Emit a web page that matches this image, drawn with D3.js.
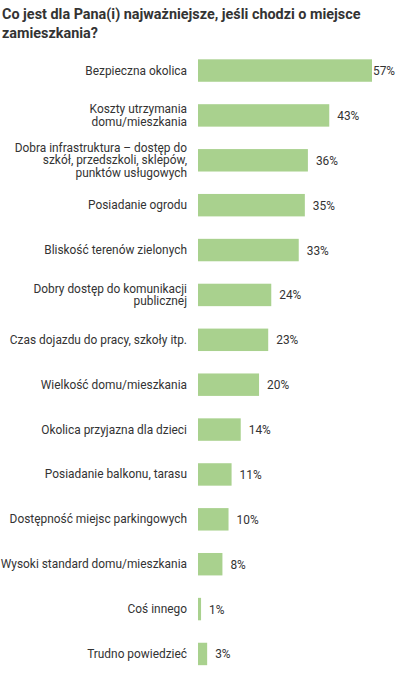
<!DOCTYPE html>
<html><head><meta charset="utf-8">
<script src="https://cdn.jsdelivr.net/npm/d3@7"></script>
<style>
html,body{margin:0;padding:0;background:#fff;}
svg{display:block;font-family:Roboto,"Noto Sans",sans-serif;}
</style></head>
<body><svg id="c" width="397" height="673"></svg>
<script>
const title = ["Co jest dla Pana(i) najważniejsze, jeśli chodzi o miejsce", "zamieszkania?"];
const categories = [
  "Bezpieczna okolica",
  "Koszty utrzymania\ndomu/mieszkania",
  "Dobra infrastruktura – dostęp do\nszkół, przedszkoli, sklepów,\npunktów usługowych",
  "Posiadanie ogrodu",
  "Bliskość terenów zielonych",
  "Dobry dostęp do komunikacji\npublicznej",
  "Czas dojazdu do pracy, szkoły itp.",
  "Wielkość domu/mieszkania",
  "Okolica przyjazna dla dzieci",
  "Posiadanie balkonu, tarasu",
  "Dostępność miejsc parkingowych",
  "Wysoki standard domu/mieszkania",
  "Coś innego",
  "Trudno powiedzieć"
];
const values = [57, 43, 36, 35, 33, 24, 23, 20, 14, 11, 10, 8, 1, 3];

const W = 397, H = 673;
const svg = d3.select("#c");
const x = d3.scaleLinear().domain([0, 57]).range([198, 372]);
const y = d3.scaleBand().domain(categories).range([48.1, 676.4]).paddingInner(0.5).paddingOuter(0.25);

svg.append("text").attr("x", 2).attr("y", 19)
  .attr("font-size", 14.4).attr("font-weight", 700).attr("fill", "#333")
  .selectAll("tspan").data(title).join("tspan")
  .attr("x", 2).attr("dy", (d, i) => i ? 19 : 0).text(d => d);

svg.selectAll("rect.bar").data(values).join("rect")
  .attr("class", "bar")
  .attr("x", x(0))
  .attr("y", (d, i) => y(categories[i]))
  .attr("width", d => x(d) - x(0))
  .attr("height", y.bandwidth())
  .attr("fill", "#a9d18e");

const lh = 12.6;
categories.forEach((c, i) => {
  const lines = c.split("\n");
  const cy = y(c) + y.bandwidth() / 2;
  const t = svg.append("text").attr("font-size", 11.9).attr("fill", "#333")
    .attr("text-anchor", "end");
  lines.forEach((l, j) => {
    t.append("tspan").attr("x", 187)
      .attr("y", cy + (j - (lines.length - 1) / 2) * lh + 4).text(l);
  });
});

values.forEach((v, i) => {
  const cy = y(categories[i]) + y.bandwidth() / 2;
  const t = svg.append("text").attr("font-size", 11.9).attr("fill", "#333")
    .attr("x", x(v) + 8).attr("y", cy + 4.5).text(v + "%");
  const bb = t.node().getBBox();
  if (bb.x + bb.width > W - 1) t.attr("x", x(v) + 1);
});
</script></body></html>
